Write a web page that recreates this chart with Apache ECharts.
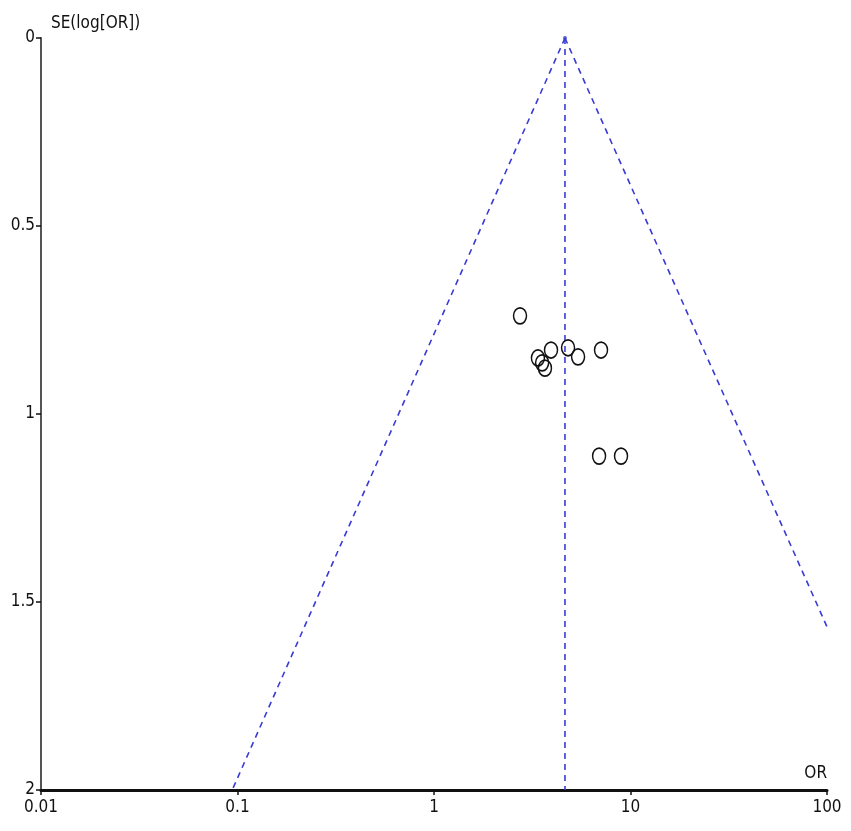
<!DOCTYPE html>
<html><head><meta charset="utf-8">
<script src="https://cdn.jsdelivr.net/npm/echarts@6/dist/echarts.min.js"></script>
<style>html,body{margin:0;padding:0;background:#fff}#c{width:851px;height:831px}</style>
</head><body><div id="c"></div>
<script>
// Study points: [OR, SE(log OR)]
const studyOR = [2.74, 3.94, 4.81, 5.41, 7.08, 3.38, 3.55, 3.67, 6.92, 8.95];
const studySE = [0.739, 0.830, 0.824, 0.848, 0.830, 0.851, 0.864, 0.878, 1.112, 1.112];
// Pooled estimate and funnel limits
const pooledLine = [[4.64, 0], [4.64, 2]];
const funnelLeft = [[4.64, 0], [0.094, 2]];
const funnelRight = [[4.64, 0], [100, 1.566]];
const xTicks = [0.01, 0.1, 1, 10, 100];
const yTicks = [0, 0.5, 1, 1.5, 2];

const font = '"DejaVu Sans Condensed", "DejaVu Sans", sans-serif';
const chart = echarts.init(document.getElementById('c'));
const dashStyle = {color: '#3a3ad6', width: 1.6, type: [6, 5]};
chart.setOption({
  animation: false,
  grid: {left: 41, right: 24, top: 38, bottom: 41},
  xAxis: {
    type: 'log', logBase: 10, min: 0.01, max: 100,
    position: 'bottom',
    name: 'OR', nameLocation: 'end', nameGap: 0,
    nameTextStyle: {fontFamily: font, fontSize: 17, color: '#111', align: 'right', verticalAlign: 'bottom', padding: [0, 0, 8, 0]},
    axisLine: {onZero: false, lineStyle: {color: '#111', width: 3}},
    axisTick: {length: 5, lineStyle: {color: '#111', width: 1.5}},
    axisLabel: {fontFamily: font, fontSize: 17, color: '#111', margin: 9,
      formatter: v => { const t = xTicks.find(x => Math.abs(x - v) / x < 1e-6); return t === undefined ? '' : String(t); }},
    splitLine: {show: false}, minorTick: {show: false}
  },
  yAxis: {
    type: 'value', min: 0, max: 2, interval: 0.5, inverse: true,
    position: 'left',
    name: 'SE(log[OR])', nameLocation: 'start', nameGap: 6,
    nameTextStyle: {fontFamily: font, fontSize: 17, color: '#111', align: 'left', verticalAlign: 'bottom', padding: [0, 0, 0, 10]},
    axisLine: {onZero: false, lineStyle: {color: '#555', width: 2}},
    axisTick: {length: 5, lineStyle: {color: '#111', width: 1.5}},
    axisLabel: {fontFamily: font, fontSize: 17, color: '#111', margin: 6,
      formatter: v => { const t = yTicks.find(y => Math.abs(y - v) < 1e-9); return t === undefined ? '' : String(t); }},
    splitLine: {show: false}
  },
  series: [
    {type: 'line', data: pooledLine, symbol: 'none', lineStyle: dashStyle, z: 2},
    {type: 'line', data: funnelLeft, symbol: 'none', lineStyle: dashStyle, z: 2},
    {type: 'line', data: funnelRight, symbol: 'none', lineStyle: dashStyle, z: 2},
    {type: 'scatter', data: [[4.64, 0]], symbol: 'circle', symbolSize: 4, itemStyle: {color: '#3a3ad6'}, z: 3},
    {type: 'scatter', data: studyOR.map((o, i) => [o, studySE[i]]),
      symbol: 'circle', symbolSize: [13, 16],
      itemStyle: {color: 'rgba(255,255,255,0)', borderColor: '#111', borderWidth: 1.6, opacity: 1}, z: 4}
  ]
});
</script></body></html>
